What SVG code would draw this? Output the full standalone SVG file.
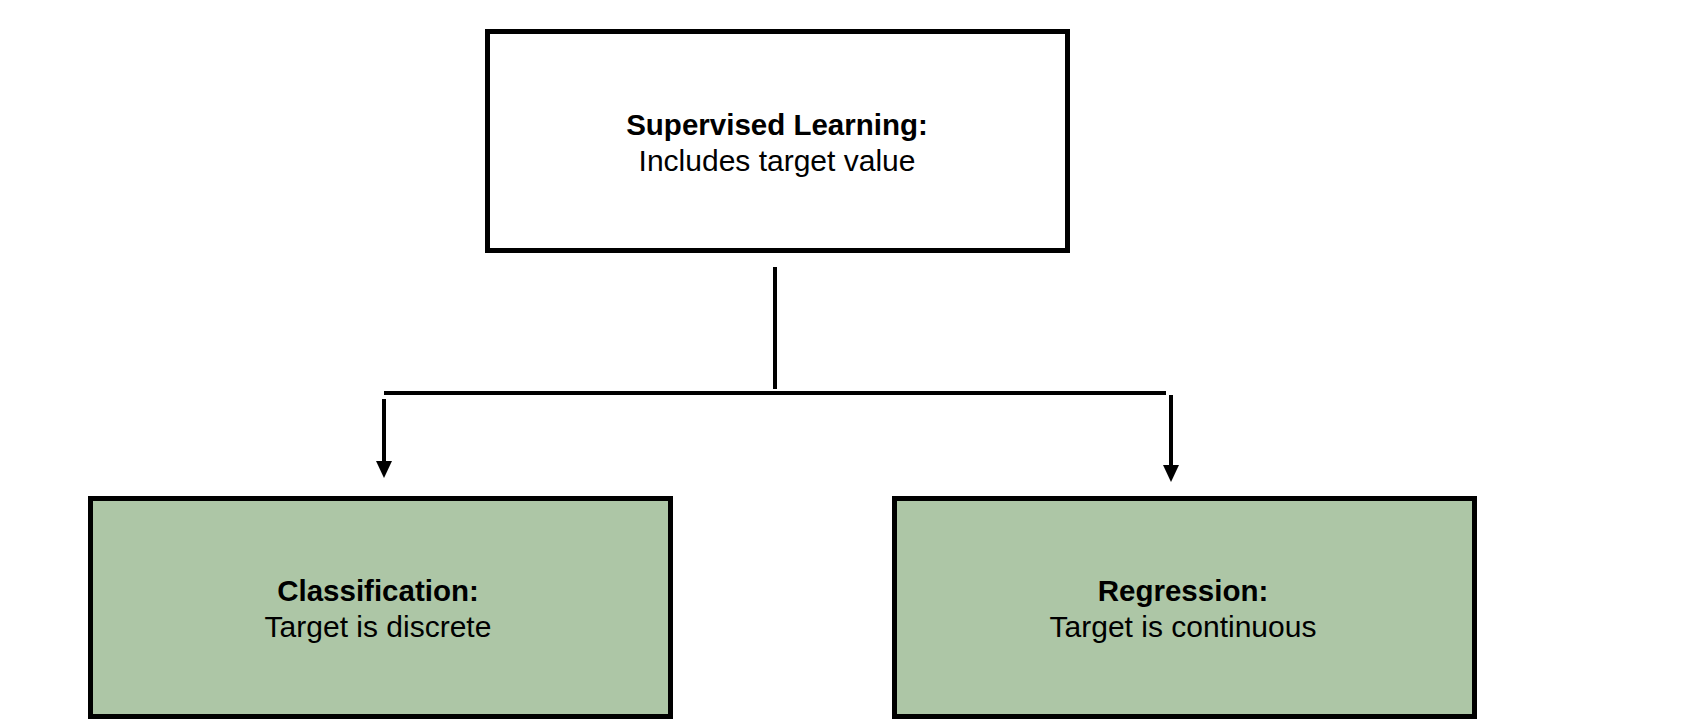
<svg xmlns="http://www.w3.org/2000/svg" width="1686" height="728" viewBox="0 0 1686 728">
  <style>
    .box { stroke: #000; stroke-width: 5; }
    .white { fill: #ffffff; }
    .green { fill: #adc6a6; }
    .t { font-family: "Liberation Sans", Arial, Helvetica, sans-serif; font-size: 30px; fill: #000; text-anchor: middle; }
    .b { font-weight: bold; font-size: 29.5px; }
    .conn { stroke: #000; stroke-width: 4; fill: none; stroke-linecap: butt; }
  </style>
  <defs>
    <marker id="arrow" markerUnits="userSpaceOnUse" markerWidth="17" markerHeight="16" viewBox="0 0 17 16" refX="0" refY="8" orient="auto">
      <path d="M0,0 L17,8 L0,16 z" fill="#000"/>
    </marker>
  </defs>
  <rect width="1686" height="728" fill="#ffffff"/>

  <g id="supervised">
    <rect class="box white" x="487.5" y="31.5" width="580" height="219"/>
    <text class="t b" x="777" y="135">Supervised Learning:</text>
    <text class="t" x="777" y="171">Includes target value</text>
  </g>

  <g id="classification">
    <rect class="box green" x="90.5" y="498.5" width="580" height="218"/>
    <text class="t b" x="378" y="601">Classification:</text>
    <text class="t" x="378" y="637">Target is discrete</text>
  </g>

  <g id="regression">
    <rect class="box green" x="894.5" y="498.5" width="580" height="218"/>
    <text class="t b" x="1183" y="601">Regression:</text>
    <text class="t" x="1183" y="637">Target is continuous</text>
  </g>

  <g id="connectors">
    <line class="conn" x1="775" y1="267" x2="775" y2="389"/>
    <line class="conn" x1="384" y1="393" x2="1166" y2="393"/>
    <line class="conn" x1="384" y1="399" x2="384" y2="461" marker-end="url(#arrow)"/>
    <line class="conn" x1="1171" y1="395" x2="1171" y2="465" marker-end="url(#arrow)"/>
  </g>
</svg>
